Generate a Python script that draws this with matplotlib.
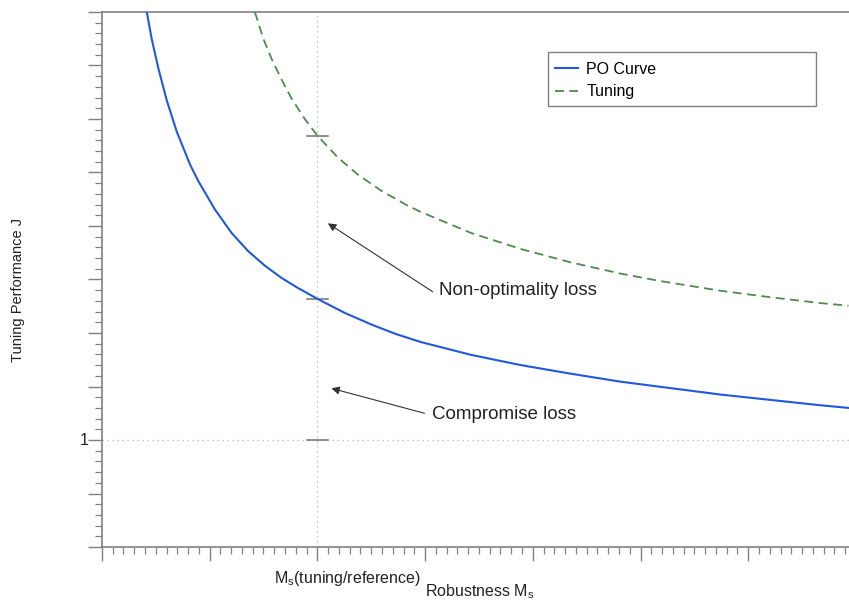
import matplotlib
matplotlib.use("Agg")
import matplotlib.pyplot as plt
from matplotlib.patches import Rectangle
from matplotlib.ticker import MultipleLocator, NullFormatter

plt.rcParams['font.family'] = ['Liberation Sans', 'DejaVu Sans']

# PO curve (best achievable J for each robustness level)
po_ms = [0.417, 0.463, 0.525, 0.602, 0.694, 0.818, 0.895, 1.049, 1.204, 1.358,
         1.512, 1.667, 1.821, 2.0, 2.25, 2.5, 2.73, 2.963, 3.43, 3.889,
         4.35, 4.815, 5.741, 6.667, 6.93]
po_j = [1.800, 1.749, 1.694, 1.635, 1.577, 1.515, 1.484, 1.431, 1.387, 1.353,
        1.326, 1.303, 1.284, 1.264, 1.238, 1.216, 1.198, 1.183, 1.159, 1.140,
        1.124, 1.109, 1.085, 1.065, 1.060]

# tuning curve
tun_ms = [1.42, 1.497, 1.574, 1.667, 1.759, 1.88, 2.0, 2.19, 2.377, 2.6,
          2.84, 2.963, 3.426, 3.889, 4.352, 4.815, 5.185, 5.741, 6.2, 6.667, 6.93]
tun_j = [1.800, 1.751, 1.713, 1.674, 1.639, 1.601, 1.569, 1.528, 1.496, 1.465,
         1.438, 1.426, 1.387, 1.357, 1.332, 1.311, 1.297, 1.279, 1.267, 1.256, 1.251]

ms_ref = 2.0
j_ref = 1.0
j_marks = [1.0, 1.264, 1.568]

fig = plt.figure(figsize=(8.49, 6.08), dpi=100)
ax = fig.add_axes([0.120, 0.1003, 0.880, 0.8800])

grey = '#808080'
ax.axvline(ms_ref, color='#b5b5b5', lw=0.9, ls=(0, (1, 3)), zorder=1)
ax.axhline(j_ref, color='#b5b5b5', lw=0.9, ls=(0, (1, 3)), zorder=1)
for jm in j_marks:
    ax.plot([ms_ref - 0.1, ms_ref + 0.1], [jm, jm], color='#707070', lw=1.1, zorder=2)

ax.plot(po_ms, po_j, color='#2158dc', lw=1.5, label='PO Curve', zorder=3)
ax.plot(tun_ms, tun_j, color='#4d8c4d', lw=1.3, ls=(0, (5, 3)), label='Tuning', zorder=3)

ax.annotate('', xy=(2.098, 1.405), xytext=(3.071, 1.277),
            arrowprops=dict(arrowstyle='-|>', color='#333333', lw=0.8,
                            mutation_scale=12, shrinkA=0, shrinkB=0))
ax.text(3.132, 1.279, 'Non-optimality loss', fontsize=13.5, color='#222222', va='center', ha='left')
ax.annotate('', xy=(2.130, 1.0966), xytext=(2.994, 1.050),
            arrowprops=dict(arrowstyle='-|>', color='#333333', lw=0.8,
                            mutation_scale=12, shrinkA=0, shrinkB=0))
ax.text(3.062, 1.0486, 'Compromise loss', fontsize=13.5, color='#222222', va='center', ha='left')

ax.set_xlim(0, 6.935)
ax.set_ylim(0.8, 1.8)

ax.xaxis.set_major_locator(MultipleLocator(1.0))
ax.xaxis.set_minor_locator(MultipleLocator(0.1))
ax.xaxis.set_major_formatter(NullFormatter())
ax.yaxis.set_major_locator(MultipleLocator(0.1))
ax.yaxis.set_minor_locator(MultipleLocator(0.02))
ax.yaxis.set_major_formatter(NullFormatter())
ax.tick_params(which='major', length=10, width=1.0, color=grey, direction='out')
ax.tick_params(which='minor', length=5, width=0.9, color=grey, direction='out')

for side in ['left', 'bottom', 'top']:
    ax.spines[side].set_color(grey)
    ax.spines[side].set_linewidth(1.2)
ax.spines['right'].set_visible(False)

ax.text(-0.12, 1.0, '1', transform=ax.transData, fontsize=11.5, color='#222222',
        ha='right', va='center')

fig.text(347 / 849, 1 - 578 / 608, r'M$_\mathregular{s}$(tuning/reference)', fontsize=11.5,
         color='#222222', ha='center', va='center')
fig.text(425 / 849, 1 - 592 / 608, r'Robustness M$_\mathregular{s}$', fontsize=11.5,
         color='#222222', ha='left', va='center')
fig.text(18 / 849, 1 - 290 / 608, 'Tuning Performance J', fontsize=10.5, color='#222222',
         ha='center', va='center', rotation=90)

# legend box drawn by hand so it can be as wide as in the reference
box = Rectangle((548 / 849, 1 - 106.3 / 608), (815.7 - 548) / 849, 54.6 / 608,
                transform=fig.transFigure, facecolor='white', edgecolor=grey,
                lw=1.0, zorder=4)
fig.patches.append(box)
leg = fig.legend(loc='upper left', bbox_to_anchor=(555 / 849, 1 - 62 / 608),
                 fontsize=11.5, frameon=False, borderpad=0, borderaxespad=0,
                 handlelength=1.45, handletextpad=0.5, labelspacing=0.45)
leg.set_zorder(5)

fig.savefig('out.png', dpi=100)
